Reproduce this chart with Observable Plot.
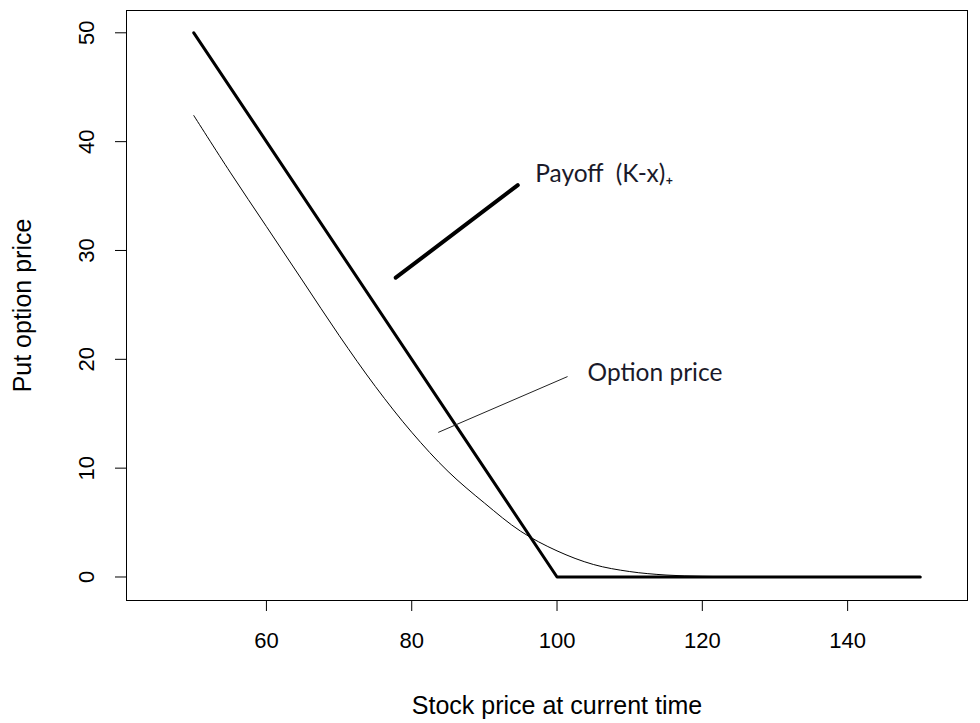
<!DOCTYPE html>
<html>
<head>
<meta charset="utf-8">
<script src="https://cdn.jsdelivr.net/npm/d3@7"></script>
<script src="https://cdn.jsdelivr.net/npm/@observablehq/plot@0.6"></script>
<style>
  html, body { margin: 0; padding: 0; background: #ffffff; }
  #chart svg { display: block; }
</style>
</head>
<body>
<div id="chart"></div>
<script>
// ---- data ----
const stockPrice  = [50, 55, 60, 65, 70, 75, 80, 85, 90, 95, 100, 105, 110, 115, 120, 125, 130, 135, 140, 145, 150];
const optionPrice = [42.4, 37.2, 32.2, 27.2, 22.2, 17.5, 13.3, 9.7, 6.8, 4.2, 2.4, 1.15, 0.5, 0.18, 0.06, 0.02, 0, 0, 0, 0, 0];
const payoffStock = [50, 100, 150];
const payoffValue = [50, 0, 0];
const xTicks = [60, 80, 100, 120, 140];
const yTicks = [0, 10, 20, 30, 40, 50];
const xTitle = "Stock price at current time";
const yTitle = "Put option price";
// annotation pointers (data units)
const payoffPointerX = [77.8, 94.6];
const payoffPointerY = [27.5, 36.0];
const optionPointerX = [83.7, 101.4];
const optionPointerY = [13.3, 18.4];
const labelTexts = ["Payoff  (K-x)\u208A", "Option price"];
const labelX = [97.0, 104.2];
const labelY = [37.05, 18.77];

const optionData = stockPrice.map((s, i) => ({s, p: optionPrice[i]}));
const payoffData = payoffStock.map((s, i) => ({s, p: payoffValue[i]}));
const payPtr = payoffPointerX.map((x, i) => ({x, y: payoffPointerY[i]}));
const optPtr = optionPointerX.map((x, i) => ({x, y: optionPointerY[i]}));
const labels = labelTexts.map((t, i) => ({t, x: labelX[i], y: labelY[i]}));

const tickFont = "Liberation Sans, Arial, sans-serif";
const annFont = "Lato, 'Open Sans', sans-serif";

const chart = Plot.plot({
  width: 980,
  height: 723,
  marginLeft: 126,
  marginRight: 13,
  marginTop: 10,
  marginBottom: 123,
  style: {fontFamily: tickFont, fontSize: "22px", color: "#000", background: "#fff"},
  x: {domain: [40.74, 156.5], axis: null},
  y: {domain: [-2.16, 52.05], axis: null},
  marks: [
    Plot.frame({stroke: "#000", strokeWidth: 1}),
    Plot.axisX({ticks: xTicks, tickSize: 11, tickPadding: 21, fontSize: 22, label: null, stroke: "#000"}),
    Plot.axisY({ticks: yTicks, tickSize: 11, tickFormat: () => "", label: null, stroke: "#000"}),
    Plot.text(yTicks, {y: d => d, text: d => String(d), frameAnchor: "left", textAnchor: "middle", dx: -40, rotate: -90, fontSize: 22, fill: "#000"}),
    Plot.text([xTitle], {x: 100, text: d => d, frameAnchor: "bottom", textAnchor: "middle", dy: 113, fontSize: 25, fill: "#000"}),
    Plot.text([yTitle], {text: d => d, frameAnchor: "left", textAnchor: "middle", dx: -104, rotate: -90, fontSize: 25, fill: "#000"}),
    Plot.line(optionData, {x: "s", y: "p", stroke: "#000", strokeWidth: 1, curve: "catmull-rom"}),
    Plot.line(payoffData, {x: "s", y: "p", stroke: "#000", strokeWidth: 3}),
    Plot.line(payPtr, {x: "x", y: "y", stroke: "#000", strokeWidth: 4}),
    Plot.line(optPtr, {x: "x", y: "y", stroke: "#222", strokeWidth: 1}),
    Plot.text(labels, {x: "x", y: "y", text: "t", textAnchor: "start", fontFamily: annFont, fontSize: 24.5, fill: "#1a1a2a"})
  ]
});
document.getElementById("chart").appendChild(chart);
</script>
</body>
</html>
